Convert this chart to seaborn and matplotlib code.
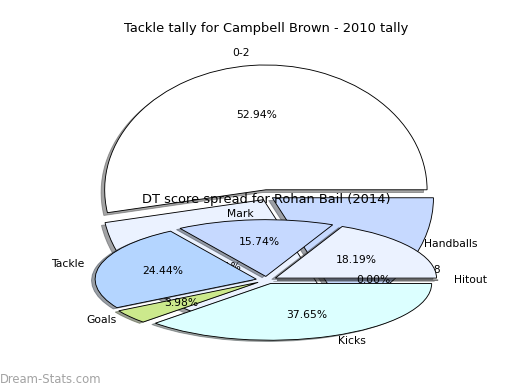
import matplotlib
matplotlib.use("Agg")
import matplotlib.pyplot as plt
import seaborn as sns

# tackle tally (first pie, mostly hidden under the second one)
tackle_labels = ["0-2", "3-5", "6-8"]
tackle_counts = [9, 5, 3]

# DT score spread (second pie)
dt_labels = ["Hitout", "Handballs", "Mark", "Tackle", "Goals", "Kicks"]
dt_share = [0.00, 18.19, 15.74, 24.44, 3.98, 37.65]

pie_colours = ["#ffffff", "#ebf2ff", "#c6d9ff", "#b4d5ff", "#cce98c", "#dcffff"]

sns.set_style("white")
plt.rcParams["font.family"] = ["DejaVu Sans"]
plt.rcParams["text.color"] = "black"
plt.rcParams["font.size"] = 9.7
palette = sns.color_palette(pie_colours)

fig = plt.figure(figsize=(6.5, 4.875), dpi=80)
fig.subplots_adjust(left=0.125, right=0.9, bottom=0.1, top=0.9, hspace=0.2)
edge = dict(edgecolor="black", linewidth=0.8)

ax1 = fig.add_subplot(111)
ax1.pie(tackle_counts, labels=tackle_labels, colors=palette[:len(tackle_counts)],
        explode=[0.042] * len(tackle_counts), autopct="%1.2f%%", shadow=True,
        wedgeprops=edge)
ax1.set_aspect("auto")
ax1.set_title("Tackle tally for Campbell Brown - 2010 tally", fontsize=11.7)

ax2 = fig.add_subplot(212)
ax2.pie(dt_share, labels=dt_labels, colors=palette[:len(dt_share)],
        explode=[0.065] * len(dt_share), autopct="%1.2f%%", shadow=True,
        wedgeprops=edge)
ax2.set_aspect("auto")
ax2.set_title("DT score spread for Rohan Bail (2014)", fontsize=11.7)

fig.text(0.0, 0.026, "Dream-Stats.com", color="#a3a3a3", fontsize=10.5, va="center")

fig.savefig("out.png", dpi=80)
